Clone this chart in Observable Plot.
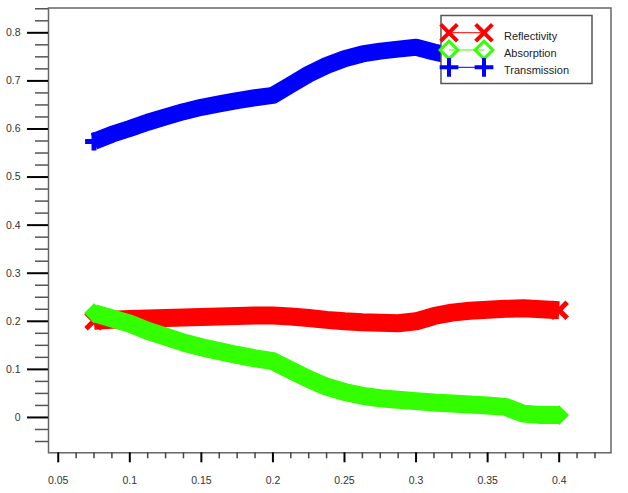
<!DOCTYPE html>
<html><head><meta charset="utf-8">
<script src="https://cdn.jsdelivr.net/npm/d3@7"></script>
<script src="https://cdn.jsdelivr.net/npm/@observablehq/plot@0.6"></script>
<style>
html,body{margin:0;padding:0;background:#fff;}
#chart{width:628px;height:493px;}
</style></head><body><div id="chart"></div>
<script>
const x = [0.075,0.0875,0.1,0.1125,0.125,0.1375,0.15,0.1625,0.175,0.1875,0.2,0.2125,0.225,0.2375,0.25,0.2625,0.275,0.2875,0.3,0.3125,0.325,0.3375,0.35,0.3625,0.375,0.3875,0.4];
const reflectivity = [0.201,0.203,0.205,0.206,0.207,0.208,0.209,0.210,0.211,0.212,0.212,0.210,0.207,0.203,0.200,0.198,0.197,0.196,0.200,0.211,0.218,0.222,0.224,0.226,0.227,0.225,0.223];
const absorption = [0.217,0.206,0.195,0.180,0.168,0.156,0.146,0.138,0.130,0.123,0.117,0.098,0.080,0.064,0.053,0.045,0.040,0.037,0.034,0.031,0.029,0.027,0.025,0.022,0.008,0.005,0.005];
const transmission = [0.574,0.589,0.601,0.614,0.625,0.636,0.645,0.652,0.659,0.665,0.670,0.692,0.714,0.732,0.746,0.756,0.762,0.766,0.770,0.760,0.752,0.750,0.750,0.752,0.765,0.770,0.771];
const seriesNames = ["Reflectivity","Absorption","Transmission"];
const seriesColors = ["#ff0000","#33ff00","#0000ff"];
const seriesSymbols = ["times","diamond2","plus"];
const xTicks = [0.05,0.1,0.15,0.2,0.25,0.3,0.35,0.4];
const yTicks = [0,0.1,0.2,0.3,0.4,0.5,0.6,0.7,0.8];

const seriesValues = [reflectivity, absorption, transmission];
const lineWidths = [18, 18, 17];
const markerR = [7.3, 7.6, 5.8];
const data = seriesNames.map((name, i) => x.map((xv, j) => ({series: name, x: xv, y: seriesValues[i][j]})));

const xMinor = d3.range(0, 31).map(k => +(0.05 + 0.0125 * k).toFixed(4)).filter(v => !xTicks.some(t => Math.abs(t - v) < 1e-6));
const yMinor = d3.range(-2, 35).map(k => +(0.025 * k).toFixed(4)).filter(v => !yTicks.some(t => Math.abs(t - v) < 1e-6));

const font = "'Liberation Sans', Arial, sans-serif";

const marks = [];
seriesNames.forEach((name, i) => {
  const d = data[i];
  marks.push(Plot.line(d, {x: "x", y: "y", stroke: seriesColors[i], strokeWidth: lineWidths[i], strokeLinejoin: "round", strokeLinecap: "butt"}));
  const ends = [d[0], d[d.length - 1]];
  marks.push(Plot.dot(ends, {x: "x", y: "y", symbol: seriesSymbols[i], r: markerR[i], stroke: seriesColors[i], fill: seriesSymbols[i] === "diamond2" ? seriesColors[i] : "none", strokeWidth: seriesSymbols[i] === "diamond2" ? 2 : 5}));
});

const plot = Plot.plot({
  width: 628, height: 493,
  marginLeft: 48, marginRight: 17.5, marginTop: 7.5, marginBottom: 40.7,
  style: {fontFamily: font, fontSize: "10.5px", color: "#333", background: "#fff", overflow: "visible"},
  x: {domain: [0.0432, 0.4362], label: null},
  y: {domain: [-0.0735, 0.8516], label: null},
  marks: [
    ...marks,
    Plot.frame({stroke: "#666", strokeWidth: 1.5}),
    Plot.axisX(xMinor, {anchor: "bottom", tickSize: 6, stroke: "#444", strokeWidth: 1.5, label: null, tickFormat: () => ""}),
    Plot.axisX(xTicks, {anchor: "bottom", tickSize: 10, tickPadding: 14, stroke: "#000", strokeWidth: 2, fill: "#333", label: null, tickFormat: d => String(d)}),
    Plot.axisY(yMinor, {anchor: "left", tickSize: 13, stroke: "#555", strokeWidth: 1.5, label: null, tickFormat: () => ""}),
    Plot.axisY(yTicks, {anchor: "left", tickSize: 21, tickPadding: 7, stroke: "#000", strokeWidth: 2, fill: "#333", label: null, tickFormat: d => String(d)})
  ]
});
document.getElementById("chart").appendChild(plot);

// legend box (drawn on top of the plot, as in the reference)
const svg = d3.select(plot);
const lg = svg.append("g").attr("font-family", font).attr("font-size", "11px").attr("text-anchor", "start");
lg.append("rect").attr("x", 441).attr("y", 15.5).attr("width", 151).attr("height", 68)
  .attr("fill", "#fff").attr("stroke", "#555").attr("stroke-width", 1.5);
const symMap = {times: d3.symbolTimes, diamond2: d3.symbolDiamond2, plus: d3.symbolPlus};
seriesNames.forEach((name, i) => {
  const cy = 32.7 + i * 17.3;
  const g = lg.append("g");
  g.append("line").attr("x1", 449).attr("x2", 484).attr("y1", cy).attr("y2", cy)
    .attr("stroke", seriesColors[i]).attr("stroke-width", 1);
  [449, 484].forEach(cx => {
    g.append("path").attr("transform", `translate(${cx},${cy})`)
      .attr("d", d3.symbol(symMap[seriesSymbols[i]], Math.PI * markerR[i] * markerR[i] * 1.1)())
      .attr("fill", "none").attr("stroke", seriesColors[i]).attr("stroke-width", seriesSymbols[i] === "diamond2" ? 3 : 4);
  });
  g.append("text").attr("x", 504).attr("y", cy + 3.3).attr("dy", "0.35em").attr("text-anchor", "start").attr("fill", "#222").text(name);
});
</script>
</body></html>
